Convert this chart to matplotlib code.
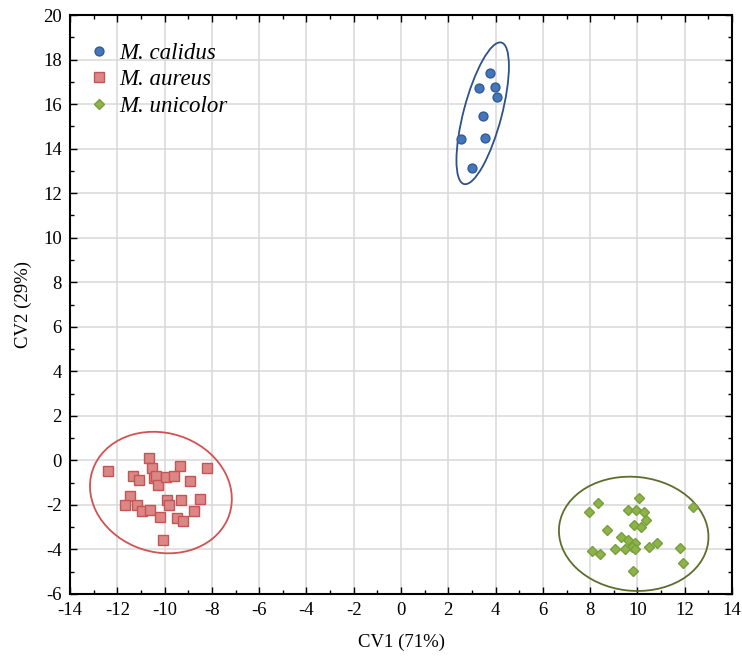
import numpy as np
import matplotlib
matplotlib.use("Agg")
import matplotlib.pyplot as plt
from matplotlib.patches import Ellipse
from matplotlib.ticker import MultipleLocator

# canonical scores per species
calidus_cv1 = [3.75, 3.29, 3.97, 4.08, 3.48, 2.54, 3.54, 2.99]
calidus_cv2 = [17.41, 16.72, 16.75, 16.30, 15.45, 14.45, 14.49, 13.12]

aureus_cv1 = [-12.38, -10.65, -10.54, -9.36, -8.19, -11.34, -11.09, -10.46, -10.35,
              -10.29, -9.95, -9.59, -8.92, -11.45, -11.67, -11.15, -10.95, -10.63,
              -10.19, -9.90, -9.81, -9.29, -8.51, -9.49, -9.22, -8.76, -10.05]
aureus_cv2 = [-0.48, 0.12, -0.36, -0.24, -0.36, -0.70, -0.89, -0.80, -0.72,
              -1.12, -0.75, -0.71, -0.93, -1.59, -2.00, -1.99, -2.27, -2.21,
              -2.56, -1.79, -2.02, -1.77, -1.72, -2.57, -2.74, -2.27, -3.56]

unicolor_cv1 = [10.05, 8.35, 7.96, 9.59, 9.93, 10.29, 10.38, 9.87, 10.15, 8.70,
                9.29, 9.60, 9.90, 9.78, 9.91, 9.49, 9.06, 8.08, 8.43, 10.50,
                10.84, 11.81, 11.94, 9.81, 12.35]
unicolor_cv2 = [-1.68, -1.90, -2.33, -2.23, -2.23, -2.33, -2.66, -2.92, -2.99, -3.11,
                -3.44, -3.56, -3.72, -3.88, -3.99, -3.99, -3.99, -4.08, -4.20, -3.90,
                -3.70, -3.92, -4.62, -4.97, -2.11]

species = ["M. calidus", "M. aureus", "M. unicolor"]
ellipse_k = [2.17, 2.95, 2.83]

groups = [
    dict(x=calidus_cv1, y=calidus_cv2, marker="o", ms=6.4,
         face="#4576ba", edge="#2f5b99", line="#2d5189"),
    dict(x=aureus_cv1, y=aureus_cv2, marker="s", ms=6.6,
         face="#dc8686", edge="#c55454", line="#d05252"),
    dict(x=unicolor_cv1, y=unicolor_cv2, marker="D", ms=5.6,
         face="#8fb24a", edge="#76a03a", line="#5d6e2c"),
]

plt.rcParams["font.family"] = ["Liberation Serif", "DejaVu Serif"]
plt.rcParams["axes.unicode_minus"] = False

fig = plt.figure(figsize=(7.42, 6.58), dpi=100)
ax = fig.add_axes([70 / 742, 1 - 594 / 658, 662 / 742, 579 / 658])


def cov_ellipse(x, y, k, color):
    x = np.asarray(x)
    y = np.asarray(y)
    cov = np.cov(x, y)
    vals, vecs = np.linalg.eigh(cov)
    order = vals.argsort()[::-1]
    vals, vecs = vals[order], vecs[:, order]
    angle = np.degrees(np.arctan2(vecs[1, 0], vecs[0, 0]))
    w, h = 2 * k * np.sqrt(vals)
    return Ellipse((x.mean(), y.mean()), w, h, angle=angle, fill=False,
                   edgecolor=color, linewidth=1.3, zorder=3)


for g, name, k in zip(groups, species, ellipse_k):
    ax.plot(g["x"], g["y"], linestyle="none", marker=g["marker"], ms=g["ms"],
            markerfacecolor=g["face"], markeredgecolor=g["edge"], markeredgewidth=1.0,
            label=name, zorder=4)
    ax.add_patch(cov_ellipse(g["x"], g["y"], k, g["line"]))

ax.set_xlim(-14, 14)
ax.set_ylim(-6, 20)
ax.xaxis.set_major_locator(MultipleLocator(2))
ax.yaxis.set_major_locator(MultipleLocator(2))
ax.xaxis.set_minor_locator(MultipleLocator(1))
ax.yaxis.set_minor_locator(MultipleLocator(1))
ax.grid(True, which="major", color="#d9d9d9", linewidth=1.1, zorder=0)
ax.set_axisbelow(True)
ax.tick_params(which="both", direction="in", top=True, right=True,
               labelsize=13.5, color="black", pad=6)
ax.tick_params(which="major", length=5, width=1)
ax.tick_params(which="minor", length=3, width=1)
for s in ax.spines.values():
    s.set_linewidth(1.5)

ax.set_xlabel("CV1 (71%)", fontsize=13.5, labelpad=10)
ax.set_ylabel("CV2 (29%)", fontsize=13.5, labelpad=8)

leg = ax.legend(loc="upper left", frameon=False, prop={"style": "italic", "size": 16.5},
                handlelength=0.8, handletextpad=0.5, labelspacing=0.22,
                borderpad=0, borderaxespad=0, bbox_to_anchor=(0.030, 0.951))

fig.savefig("out.png", dpi=100)
